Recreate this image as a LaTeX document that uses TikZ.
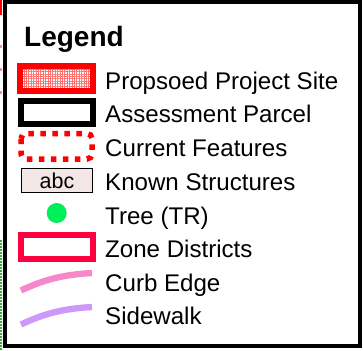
\documentclass[tikz,border=0pt]{standalone}
\usepackage{fontspec}
\setmainfont{Liberation Sans}
\usetikzlibrary{patterns.meta}

\definecolor{siteRed}{RGB}{255,0,0}
\definecolor{zoneRed}{RGB}{255,0,64}
\definecolor{structFill}{RGB}{242,230,230}
\definecolor{treeGreen}{RGB}{0,238,87}
\definecolor{curbPink}{RGB}{246,135,200}
\definecolor{walkPurple}{RGB}{204,152,250}
\definecolor{mapGreen}{RGB}{60,170,60}

\tikzset{
  label/.style={anchor=base west, inner sep=0pt, font=\fontsize{24.1}{28}\selectfont},
  heading/.style={anchor=base west, inner sep=0pt, font=\fontsize{28}{32}\selectfont\bfseries},
  thickbox/.style={line width=6pt, line join=miter},
  curbline/.style={line width=6.3pt, line cap=butt},
}

\begin{document}
\begin{tikzpicture}[x=1pt,y=-1pt]
  \useasboundingbox (0,0) rectangle (363,350);
  \fill[white] (0,0) rectangle (363,350);

  % bits of the map showing past the left edge of the legend frame
  \draw[siteRed, line width=2.5pt] (1.2,0) -- (1.2,15);
  \draw[mapGreen, line width=1.5pt, dash pattern=on 1.5pt off 1.5pt] (0.8,240) -- (0.8,350);
  \draw[curbPink, line width=1.5pt, dash pattern=on 3pt off 20pt] (0.8,45) -- (0.8,100);

  % legend frame
  \draw[black, line width=3.7pt] (4.75,2) rectangle (359.75,346);

  \node[heading] (title) at (24,46.7) {Legend};

  % proposed project site
  \draw[siteRed, thickbox, preaction={fill=white},
        pattern={Hatch[distance=2.4pt, line width=0.7pt]}, pattern color=siteRed!55]
        (20.3,66.3) rectangle (93,91);
  \node[label] (site) at (105,89) {Propsoed Project Site};

  % assessment parcel
  \draw[black, thickbox] (20.5,100.5) rectangle (93,123.5);
  \node[label] (parcel) at (105,122.5) {Assessment Parcel};

  % current features
  \draw[siteRed, line width=5.5pt, dash pattern=on 5.5pt off 6.5pt, rounded corners=5pt]
        (21,133.5) rectangle (92,159);
  \node[label] (features) at (105,156) {Current Features};

  % known structures
  \node[draw=black, line width=0.9pt, fill=structFill, minimum width=71.6pt,
        minimum height=23.4pt, inner sep=0pt, anchor=north west,
        font=\fontsize{21.5}{24}\selectfont] (abc) at (20.7,168.3) {abc};
  \node[label] (known) at (105,190) {Known Structures};

  % tree
  \fill[treeGreen] (56.7,213) circle (10pt);
  \node[label] (tree) at (105,224) {Tree (TR)};

  % zone districts
  \draw[zoneRed, thickbox] (20.5,234.5) rectangle (93,258.5);
  \node[label] (zone) at (105,257.5) {Zone Districts};

  % curb edge
  \draw[curbPink, curbline] (21,290.5) .. controls (45,279) and (65,274.5) .. (92,273);
  \node[label] (curb) at (105,291) {Curb Edge};

  % sidewalk
  \draw[walkPurple, curbline] (21,324.5) .. controls (45,313) and (65,308.5) .. (92,307);
  \node[label] (walk) at (105,324.5) {Sidewalk};
\end{tikzpicture}
\end{document}
